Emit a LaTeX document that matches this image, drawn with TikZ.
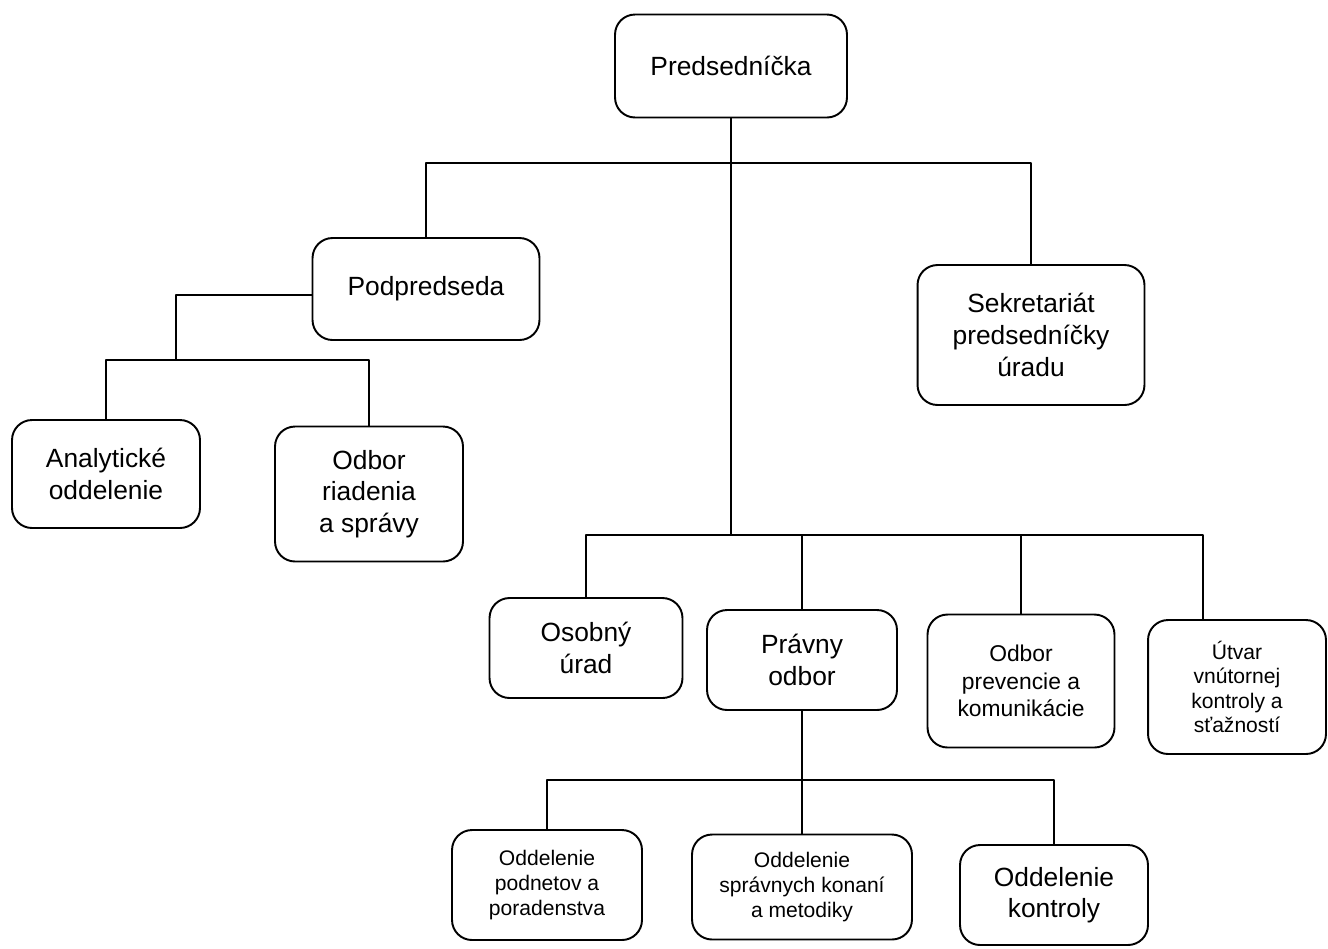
\documentclass[tikz,border=0pt]{standalone}
\usepackage{fontspec}
\setmainfont{Liberation Sans}
\usetikzlibrary{calc}

\tikzset{
  unit/.style={draw, line width=1.1pt, rounded corners=0.4cm, align=center, inner sep=2pt},
  big/.style={font=\fontsize{15}{18}\selectfont},
  mid/.style={font=\fontsize{13}{15.5}\selectfont},
  small/.style={font=\fontsize{12}{14}\selectfont},
  link/.style={line width=1.1pt}
}

\begin{document}
\begin{tikzpicture}[x=0.02cm, y=-0.02cm, line join=round, line cap=round]
    \useasboundingbox (0,0) rectangle (1328,948);

    % Vedenie
    \node[unit, big, minimum width=4.64cm, minimum height=2.06cm] (pred) at (731,66) {Predsedníčka};
    \node[unit, big, minimum width=4.54cm, minimum height=2.04cm] (podp) at (426,289) {Podpredseda};
    \node[unit, big, minimum width=4.54cm, minimum height=2.8cm] (sekr) at (1031,335) {Sekretariát\\predsedníčky\\úradu};

    % Útvary pod podpredsedom
    \node[unit, big, minimum width=3.76cm, minimum height=2.16cm] (anal) at (106,474) {Analytické\\oddelenie};
    \node[unit, big, minimum width=3.76cm, minimum height=2.7cm] (odbR) at (369,494) {Odbor\\riadenia\\a správy};

    % Útvary pod predsedníčkou
    \node[unit, big, minimum width=3.86cm, minimum height=2cm] (osob) at (586,648) {Osobný\\úrad};
    \node[unit, big, minimum width=3.8cm, minimum height=2cm] (prav) at (802,660) {Právny\\odbor};
    \node[unit, mid, minimum width=3.74cm, minimum height=2.66cm] (prev) at (1021,681) {Odbor\\prevencie a\\komunikácie};
    \node[unit, small, minimum width=3.56cm, minimum height=2.68cm] (utv) at (1237,687) {Útvar\\vnútornej\\kontroly a\\sťažností};

    % Oddelenia právneho odboru
    \node[unit, small, minimum width=3.8cm, minimum height=2.2cm] (podn) at (547,885) {Oddelenie\\podnetov a\\poradenstva};
    \node[unit, small, minimum width=4.4cm, minimum height=2.1cm] (sprv) at (802,887) {Oddelenie\\správnych konaní\\a metodiky};
    \node[unit, big, minimum width=3.76cm, minimum height=2cm] (kont) at (1054,895) {Oddelenie\\kontroly};

    % Zbernice
    \coordinate (topbus) at (0,163);
    \coordinate (podpleft) at (176,295);
    \coordinate (podpbus) at (0,360);
    \coordinate (lowbus) at (0,535);
    \coordinate (utvdrop) at (1203,535);
    \coordinate (oddbus) at (0,780);

    % Spojnice
    \draw[link] (podp.north) |- (topbus -| sekr.north) -- (sekr.north);
    \draw[link] (pred.south) -- (pred.south |- lowbus);
    \draw[link] (podp.west |- podpleft) -- (podpleft) -- (podpleft |- podpbus);
    \draw[link] (anal.north) |- (odbR.north |- podpbus) -- (odbR.north);
    \draw[link] (osob.north) |- (utvdrop) -- (utvdrop |- utv.north);
    \draw[link] (prav.north) -- (prav.north |- lowbus);
    \draw[link] (prev.north) -- (prev.north |- lowbus);
    \draw[link] (prav.south) -- (sprv.north);
    \draw[link] (podn.north) |- (kont.north |- oddbus) -- (kont.north);
\end{tikzpicture}
\end{document}
